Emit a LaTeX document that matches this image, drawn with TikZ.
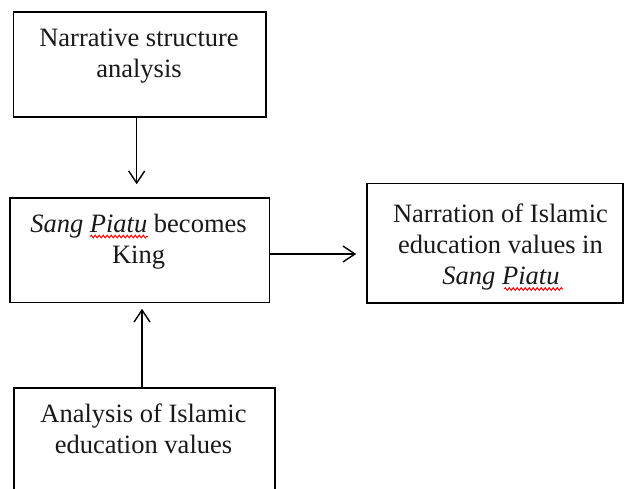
\documentclass[tikz,border=0pt]{standalone}
\usepackage{fontspec}
\setmainfont{Liberation Serif}
\usetikzlibrary{arrows.meta,decorations.pathmorphing}
\begin{document}
\begin{tikzpicture}[x=1pt,y=-1pt,
  box/.style={draw=black,line width=1.6pt,rectangle,inner sep=0pt},
  txt/.style={inner sep=0pt,anchor=base,font=\fontsize{26.5}{31}\selectfont,text=black!90},
  arr/.style={line width=1.4pt,-{Straight Barb[length=12pt,width=16pt,line width=1.4pt]}},
  squig/.style={draw=red,line width=1pt,decorate,decoration={snake,amplitude=1.3pt,segment length=4pt}}]
\clip (0,0) rectangle (624,488);
\fill[white] (0,0) rectangle (624,488);
% boxes
\node[box,minimum width=252.7pt,minimum height=104.7pt] (b1) at (139.65,64.35) {};
\node[box,minimum width=259.5pt,minimum height=104.5pt] (b2) at (139.75,250.25) {};
\node[box,minimum width=255.7pt,minimum height=119.7pt] (b3) at (494.85,243.15) {};
\node[box,minimum width=261pt,minimum height=122pt] (b4) at (144.5,449) {};
% texts
\node[txt] (t1a) at (139,46) {Narrative structure};
\node[txt] (t1b) at (139,77) {analysis};
\node[txt] (t2a) at (138.5,232) {\textit{Sang Piatu} becomes};
\node[txt] (t2b) at (138.5,263) {King};
\node[txt] (t3a) at (500.5,222) {Narration of Islamic};
\node[txt] (t3b) at (500.5,253) {education values in};
\node[txt] (t3c) at (501,284) {\textit{Sang Piatu}};
\node[txt] (t4a) at (143.5,422) {Analysis of Islamic};
\node[txt] (t4b) at (143.5,453) {education values};
% spell-check underlines
\draw[squig] (90,236.5) -- (148,236.5);
\draw[squig] (504,289) -- (563,289);
% connectors
\coordinate (x1) at (136.7,0);
\coordinate (y2) at (0,254);
\coordinate (x3) at (142,0);
\draw[arr,shorten >=13pt] (b1.south -| x1) -- (b2.north -| x1);
\draw[arr,shorten >=10pt] (b2.east |- y2) -- (b3.west |- y2);
\draw[arr,shorten >=5.5pt] (b4.north -| x3) -- (b2.south -| x3);
\end{tikzpicture}
\end{document}
